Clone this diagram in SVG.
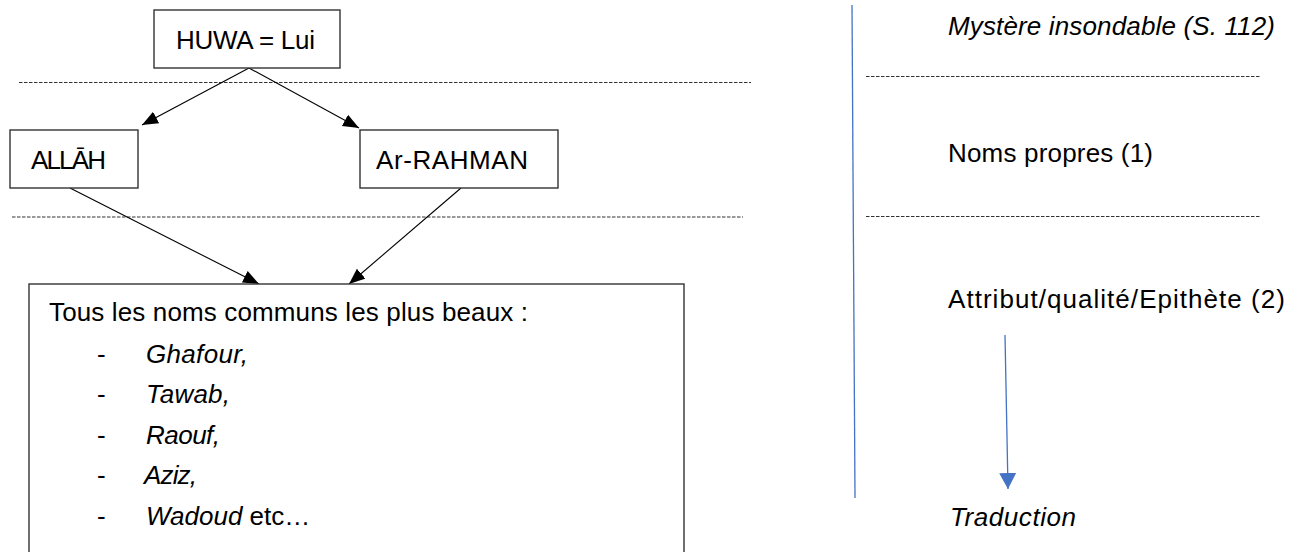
<svg xmlns="http://www.w3.org/2000/svg" width="1301" height="552" viewBox="0 0 1301 552">
<style>
.box{fill:#fff;stroke:#333;stroke-width:1.4}
.t{font-family:"Liberation Sans",Arial,sans-serif;font-size:26px;fill:#000}
.i{font-style:italic}
.dash{stroke:#333;stroke-width:1;stroke-dasharray:3.5 1.5;fill:none}
.conn{stroke:#000;stroke-width:1.1;fill:none;marker-end:url(#ah)}
.blue{stroke:#4472C4;stroke-width:1.3;fill:none}
</style>
<defs>
<marker id="ah" markerUnits="userSpaceOnUse" markerWidth="17" markerHeight="14" refX="16" refY="7" orient="auto" viewBox="0 0 17 14">
<path d="M0,0.5 L16,7 L0,13.5 z" fill="#000"/>
</marker>
<marker id="ahb" markerUnits="userSpaceOnUse" markerWidth="17" markerHeight="18" refX="16" refY="8.5" orient="auto" viewBox="0 0 17 18">
<path d="M0,0 L16,8.5 L0,17 z" fill="#4472C4"/>
</marker>
</defs>

<g id="separators">
<line class="dash" x1="19" y1="82.5" x2="751" y2="82.5"/>
<line class="dash" x1="12" y1="217" x2="743" y2="217"/>
<line class="dash" x1="866" y1="76.5" x2="1260" y2="76.5"/>
<line class="dash" x1="866" y1="216.5" x2="1260" y2="216.5"/>
<line class="blue" x1="852" y1="5" x2="855" y2="498"/>
</g>

<g id="connectors">
<line class="conn" x1="249" y1="68" x2="142" y2="125"/>
<line class="conn" x1="249" y1="68" x2="359" y2="128"/>
<line class="conn" x1="70" y1="188" x2="259" y2="284"/>
<line class="conn" x1="461" y1="188" x2="349" y2="284"/>
<line class="blue" x1="1005" y1="335" x2="1008" y2="489" marker-end="url(#ahb)"/>
</g>

<g id="huwa">
<rect class="box" x="154" y="10" width="186" height="58"/>
<text class="t" x="176" y="49" textLength="139">HUWA = Lui</text>
</g>

<g id="allah">
<rect class="box" x="10" y="130" width="128" height="58"/>
<text class="t" x="31" y="169" textLength="75">ALLĀH</text>
</g>

<g id="rahman">
<rect class="box" x="360" y="130" width="198" height="58"/>
<text class="t" x="376" y="169" textLength="152">Ar-RAHMAN</text>
</g>

<g id="names">
<rect class="box" x="29" y="284" width="655" height="290"/>
<text class="t" x="49" y="321" textLength="479">Tous les noms communs les plus beaux :</text>
<text class="t" x="97" y="363">-</text>
<text class="t i" x="146" y="363" textLength="102">Ghafour,</text>
<text class="t" x="97" y="403">-</text>
<text class="t i" x="146" y="403" textLength="84">Tawab,</text>
<text class="t" x="97" y="444">-</text>
<text class="t i" x="146" y="444" textLength="74">Raouf,</text>
<text class="t" x="97" y="484">-</text>
<text class="t i" x="144" y="484" textLength="53">Aziz,</text>
<text class="t" x="97" y="525">-</text>
<text class="t" x="146" y="525"><tspan class="i">Wadoud</tspan> etc…</text>
</g>

<g id="levels">
<text class="t i" x="948" y="35" textLength="327">Mystère insondable (S. 112)</text>
<text class="t" x="948" y="162" textLength="205">Noms propres (1)</text>
<text class="t" x="948" y="308" textLength="337">Attribut/qualité/Epithète (2)</text>
<text class="t i" x="950" y="526" textLength="126">Traduction</text>
</g>
</svg>
